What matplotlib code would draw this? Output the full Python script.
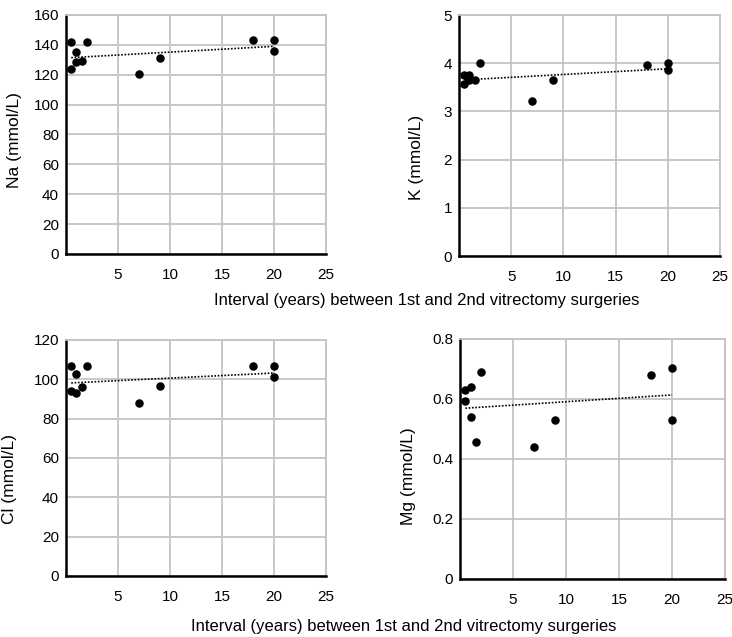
import matplotlib
matplotlib.use("Agg")
import matplotlib.pyplot as plt
import numpy as np

plt.rcParams["font.family"] = ["Liberation Sans", "DejaVu Sans"]
plt.rcParams["font.size"] = 11

# interval (years) between 1st and 2nd vitrectomy, same for every panel
interval = [0.5, 0.5, 1, 1, 1.5, 2, 7, 9, 18, 20, 20]

na = [142, 124, 135, 128.5, 129.5, 142, 120.5, 131.5, 143, 143, 136]
k = [3.76, 3.58, 3.76, 3.65, 3.65, 4.0, 3.21, 3.65, 3.97, 4.0, 3.87]
cl = [106.8, 94.1, 102.9, 93.1, 96.1, 107, 88.1, 96.4, 107, 106.6, 101]
mg = [0.629, 0.592, 0.64, 0.541, 0.456, 0.691, 0.441, 0.529, 0.68, 0.703, 0.529]

panels = [
    ("Na (mmol/L)", na, [0, 20, 40, 60, 80, 100, 120, 140, 160], ["0", "20", "40", "60", "80", "100", "120", "140", "160"]),
    ("K (mmol/L)", k, [0, 1, 2, 3, 4, 5], ["0", "1", "2", "3", "4", "5"]),
    ("Cl (mmol/L)", cl, [0, 20, 40, 60, 80, 100, 120], ["0", "20", "40", "60", "80", "100", "120"]),
    ("Mg (mmol/L)", mg, [0, 0.2, 0.4, 0.6, 0.8], ["0", "0.2", "0.4", "0.6", "0.8"]),
]
x_ticks = [5, 10, 15, 20, 25]

# axes rectangles in figure fraction (figure 732x637 px)
rects = [
    [0.0902, 0.6013, 0.3552, 0.3752],
    [0.6270, 0.5980, 0.3566, 0.3783],
    [0.0902, 0.0958, 0.3552, 0.3705],
    [0.6284, 0.0911, 0.3620, 0.3768],
]
# y-label placement (axes coords)
ylab_pos = [(-0.17, 0.477), (-0.134, 0.41), (-0.188, 0.41), (-0.166, 0.43)]

fig = plt.figure(figsize=(7.32, 6.37), dpi=100)
for (ylabel, vals, yt, ytl), rect, (lx, ly) in zip(panels, rects, ylab_pos):
    ax = fig.add_axes(rect)
    ax.scatter(interval, vals, s=26, color="black", zorder=3, clip_on=False)
    # linear trend line
    coef = np.polyfit(interval, vals, 1)
    xs = np.array([min(interval), max(interval)])
    ax.plot(xs, np.polyval(coef, xs), color="black", linestyle=(0, (1, 1)), linewidth=1.2, zorder=2)

    ax.set_xlim(0, 25)
    ax.set_ylim(yt[0], yt[-1])
    ax.set_xticks(x_ticks)
    ax.set_yticks(yt)
    ax.set_yticklabels(ytl)
    ax.tick_params(length=0, labelsize=11)
    ax.tick_params(axis="x", pad=10)
    ax.tick_params(axis="y", pad=5)
    ax.grid(True, color="#c4c4c4", linewidth=1.3)
    ax.set_axisbelow(True)
    for side in ["top", "right"]:
        ax.spines[side].set_color("#c4c4c4")
        ax.spines[side].set_linewidth(1.3)
    for side in ["left", "bottom"]:
        ax.spines[side].set_color("black")
        ax.spines[side].set_linewidth(1.8)
    ax.set_ylabel(ylabel, fontsize=12.5)
    ax.yaxis.set_label_coords(lx, ly)

xlabel = "Interval (years) between 1st and 2nd vitrectomy surgeries"
fig.text(427 / 732, 1 - 300 / 637, xlabel, ha="center", va="center", fontsize=12)
fig.text(404 / 732, 1 - 627 / 637, xlabel, ha="center", va="center", fontsize=12)

fig.savefig("out.png", dpi=100)
